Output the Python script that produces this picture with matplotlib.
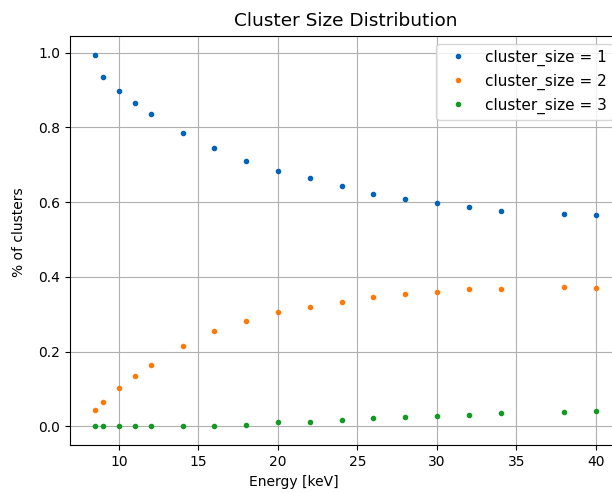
import numpy as np
import matplotlib
matplotlib.use('Agg')
import matplotlib.pyplot as plt

############# Data #############

energy = [8.5, 9, 10, 11, 12, 14, 16, 18, 20, 22, 24, 26, 28, 30, 32, 34, 38, 40]

size_1 = [0.995, 0.936, 0.898, 0.866, 0.836, 0.786, 0.745, 0.711, 0.684, 0.664,
          0.643, 0.622, 0.609, 0.598, 0.586, 0.577, 0.569, 0.566]
size_2 = [0.044, 0.064, 0.103, 0.136, 0.165, 0.216, 0.254, 0.281, 0.305, 0.320,
          0.332, 0.346, 0.355, 0.361, 0.367, 0.369, 0.373, 0.370]
size_3 = [0.000, 0.000, 0.000, 0.000, 0.000, 0.000, 0.002, 0.005, 0.011, 0.013,
          0.017, 0.023, 0.026, 0.029, 0.031, 0.035, 0.038, 0.041]

labels = ['cluster_size = 1', 'cluster_size = 2', 'cluster_size = 3']
colors = ['#0062b8', '#ff7a0a', '#129a22']

#######################################################

fig = plt.figure(figsize=(6.12, 4.93), dpi=100)
# axes run past the right edge, the reference is cropped there
ax = fig.add_axes([70 / 612, 48 / 493, 551 / 612, 409 / 493])

for y, lab, c in zip([size_1, size_2, size_3], labels, colors):
    ax.plot(energy, y, '.', color=c, label=lab)

ax.set_title('Cluster Size Distribution', fontsize=13.3, pad=7)
ax.set_xlabel('Energy [keV]', fontsize=10)
ax.set_ylabel('% of clusters', fontsize=10)
# label positions as seen in the (cropped) reference
ax.xaxis.set_label_coords(0.4065, -0.074)
ax.yaxis.set_label_coords(-0.079, 0.521)
ax.grid(True)
ax.legend(loc='upper right', fontsize=11)

plt.savefig('out.png', dpi=100)
plt.close()
